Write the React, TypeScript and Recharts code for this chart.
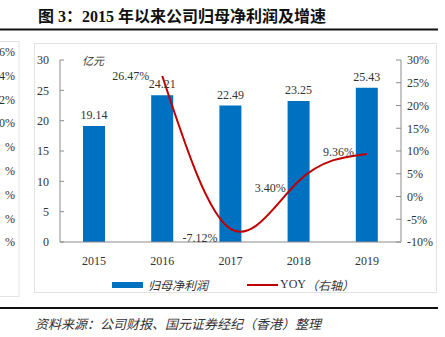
import {
  ComposedChart,
  Bar,
  Line,
  XAxis,
  YAxis,
  LabelList,
} from "recharts";

// Net profit attributable to parent (亿元) and YoY growth, 2015–2019
const years = ["2015", "2016", "2017", "2018", "2019"];
const profit = [19.14, 24.21, 22.49, 23.25, 25.43];
const yoy = [null, 26.47, -7.12, 3.4, 9.36];
const leftTicks = [0, 5, 10, 15, 20, 25, 30];
const rightTicks = [-10, -5, 0, 5, 10, 15, 20, 25, 30];
// the clipped neighbour chart peeking in at the left edge
const clippedLabels = ["6%", "4%", "2%", "0%", "%", "%", "%", "%", "%"];

const data = years.map((year, i) => ({ year, profit: profit[i], yoy: yoy[i] }));

const BLUE = "#0070C0";
const RED = "#C00000";
const AXIS = "#8c8c8c";
const TEXT = "#333333";
const SERIF = '"Liberation Serif", "Times New Roman", serif';
const CJK = '"Noto Sans CJK SC", sans-serif';

// small nudges so the YoY labels sit where the original put them
const yoyLabelDy = [0, 0, 9, 7, -2];

function YoyLabel(props: any) {
  const { x, y, value, index } = props;
  if (value == null) return null;
  return (
    <text
      x={x - 13}
      y={y + (yoyLabelDy[index] || 0)}
      textAnchor="end"
      dominantBaseline="central"
      fontFamily={SERIF}
      fontSize={12}
      fill={TEXT}
    >
      {`${Number(value).toFixed(2)}%`}
    </text>
  );
}

function LegendBox() {
  return (
    <div
      style={{
        position: "absolute",
        left: 112,
        top: 276,
        display: "flex",
        alignItems: "center",
        fontSize: 12,
        color: TEXT,
        whiteSpace: "nowrap",
      }}
    >
      <span style={{ width: 31, height: 6, background: BLUE, display: "inline-block" }} />
      <span style={{ fontFamily: CJK, marginLeft: 5, fontStyle: "italic" }}>归母净利润</span>
      <span
        style={{ width: 31, height: 2, background: RED, display: "inline-block", marginLeft: 39 }}
      />
      <span style={{ fontFamily: SERIF, marginLeft: 2 }}>YOY</span>
      <span style={{ fontFamily: CJK, fontStyle: "italic" }}>（右轴）</span>
    </div>
  );
}

export default function App() {
  return (
    <div
      style={{
        position: "absolute",
        left: 0,
        top: 0,
        width: 445,
        height: 337,
        background: "#fff",
        overflow: "hidden",
      }}
    >
      <svg width={445} height={337} style={{ position: "absolute", left: 0, top: 0 }}>
        <text
          x={38}
          y={22}
          fontFamily={`${SERIF}, ${CJK}`}
          fontWeight="bold"
          fontSize={16}
          fill="#111"
        >
          图 3：2015 年以来公司归母净利润及增速
        </text>
        <rect x={0} y={28.5} width={438} height={2} fill="#111" />
        <rect x={-1} y={41.5} width={20} height={255} fill="none" stroke="#e3e3e3" />
        {clippedLabels.map((t, i) => (
          <text
            key={i}
            x={15}
            y={52 + i * 23.8}
            textAnchor="end"
            dominantBaseline="central"
            fontFamily={SERIF}
            fontSize={12}
            fill={TEXT}
          >
            {t}
          </text>
        ))}
        <rect x={34.5} y={43.5} width={402} height={249} fill="none" stroke="#e3e3e3" />
        <text x={82} y={60} dominantBaseline="central" fontFamily={CJK} fontSize={11} fill={TEXT} fontStyle="italic">
          亿元
        </text>
        <rect x={0} y={307} width={438} height={2} fill="#111" />
        <text
          x={35}
          y={323}
          dominantBaseline="central"
          fontFamily={CJK}
          fontSize={13}
          fontStyle="italic"
          fill={TEXT}
        >
          资料来源：公司财报、国元证券经纪（香港）整理
        </text>
      </svg>
      <div style={{ position: "absolute", left: 0, top: 0 }}>
        <ComposedChart
          width={445}
          height={337}
          data={data}
          margin={{ top: 60, right: 8, bottom: 65, left: 34 }}
        >
          <XAxis
            dataKey="year"
            height={30}
            tickLine={false}
            axisLine={{ stroke: AXIS }}
            tick={{ fontFamily: SERIF, fontSize: 12, fill: TEXT }}
            tickMargin={8}
          />
          <YAxis
            yAxisId="left"
            width={26}
            domain={[0, 30]}
            ticks={leftTicks}
            interval={0}
            tickSize={-4}
            tickMargin={15}
            axisLine={{ stroke: AXIS }}
            tickLine={{ stroke: AXIS }}
            tick={{ fontFamily: SERIF, fontSize: 12, fill: TEXT }}
          />
          <YAxis
            yAxisId="right"
            orientation="right"
            width={36}
            domain={[-10, 30]}
            ticks={rightTicks}
            interval={0}
            tickSize={-5}
            tickMargin={11}
            tickFormatter={(v: number) => `${v}%`}
            axisLine={{ stroke: AXIS }}
            tickLine={{ stroke: AXIS }}
            tick={{ fontFamily: SERIF, fontSize: 12, fill: TEXT }}
          />
          <Bar yAxisId="left" dataKey="profit" fill={BLUE} barSize={22} isAnimationActive={false}>
            <LabelList
              dataKey="profit"
              position="top"
              offset={7}
              formatter={(v: number) => v.toFixed(2)}
              style={{ fontFamily: SERIF, fontSize: 12, fill: TEXT }}
            />
          </Bar>
          <Line
            yAxisId="right"
            dataKey="yoy"
            type="natural"
            stroke={RED}
            strokeWidth={2}
            dot={false}
            activeDot={false}
            isAnimationActive={false}
          >
            <LabelList dataKey="yoy" content={YoyLabel} />
          </Line>
        </ComposedChart>
      </div>
      <LegendBox />
    </div>
  );
}
